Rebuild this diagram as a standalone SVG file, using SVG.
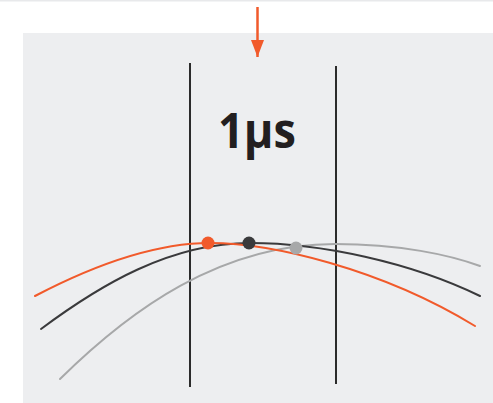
<svg xmlns="http://www.w3.org/2000/svg" width="493" height="403" viewBox="0 0 493 403">
<style>
.curve{fill:none;stroke-width:2;stroke-linecap:round}
.vline{stroke:#2b2b2b;stroke-width:2}
.label{font-family:"Open Sans","Noto Sans",sans-serif;font-weight:700;fill:#231f20}
</style>
<defs>
<marker id="ah" markerWidth="18" markerHeight="14" refX="17" refY="7" orient="auto" markerUnits="userSpaceOnUse" viewBox="0 0 18 14">
<polygon points="0,0.5 17,7 0,13.5" fill="#f15a2b"/>
</marker>
</defs>
<rect x="0" y="0" width="493" height="403" fill="#ffffff"/>
<rect x="0" y="0" width="493" height="1.5" fill="#e8e9eb"/>
<rect x="23" y="33" width="470" height="370" fill="#edeef0"/>
<g id="connectors">
<line x1="257.5" y1="7" x2="257.5" y2="57" stroke="#f15a2b" stroke-width="2.5" marker-end="url(#ah)"/>
</g>
<g id="lines">
<line class="vline" x1="190" y1="63" x2="190" y2="387"/>
<line class="vline" x1="336" y1="66" x2="336" y2="384"/>
</g>
<g id="curves">
<path class="curve" stroke="#a7a8a9" d="M60,379 C130,310 220,244 335,244 C400,244 450,255 480,266"/>
<path class="curve" stroke="#3a3a3c" d="M41,329 C100,285 170,243 250,243 C320,243 410,262 480,296"/>
<path class="curve" stroke="#f15a2b" d="M35,296 C100,262 160,243 210,243 C270,243 380,268 475,326"/>
</g>
<g id="dots">
<circle cx="208" cy="243" r="6.5" fill="#f15a2b"/>
<circle cx="249" cy="243" r="6.5" fill="#3a3a3c"/>
<circle cx="296" cy="248" r="6.5" fill="#a7a8a9"/>
</g>
<g id="label">
<text class="label" x="218" y="148" font-size="49" textLength="78" lengthAdjust="spacingAndGlyphs">1µs</text>
</g>
</svg>
